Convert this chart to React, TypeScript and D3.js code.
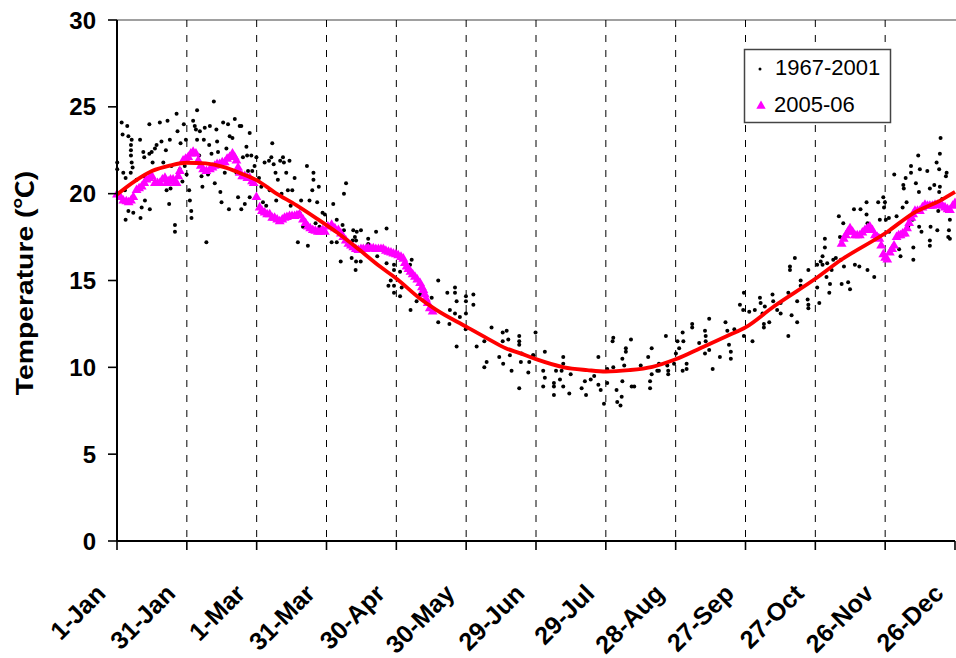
import React from "react";
import * as d3 from "d3";

// ---- Data (day of year from 1-Jan, temperature °C) ----
const xTickDays = [0, 30, 60, 90, 120, 150, 180, 210, 240, 270, 300, 330, 360];
const xTickLabels = ["1-Jan", "31-Jan", "1-Mar", "31-Mar", "30-Apr", "30-May", "29-Jun", "29-Jul", "28-Aug", "27-Sep", "27-Oct", "26-Nov", "26-Dec"];
const yTicks = [0, 5, 10, 15, 20, 25, 30];

const dotsJanMar: [number, number][] = [
  [0.1,21.8],[0.1,21.4],[2,24.1],[2.4,23.4],[2.7,21.2],[3.4,20.2],[3.7,20.9],[4.1,19.5],[3.7,18.5],[4.4,23.9],[4.9,23.3],[4.9,19.0],[6.3,23.1],[6,22.8],[6,22.5],[6,22.2],[6.3,21.8],[6.7,21.5],[5.9,21.2],[6.7,19.8],[7,18.9],[8.4,20.8],[9.9,23.1],[10.1,18.6],[10.6,19.2],[11.3,22.4],[11.7,22.1],[12,19.6],[11.6,21.0],[13.9,24.0],[14.1,19.1],[13.9,22.3],[14.9,22.4],[15.3,21.8],[16.3,22.6],[17,22.8],[18.4,24.1],[19.1,23.0],[19.9,21.8],[21,22.5],[21.7,24.2],[22.7,23.1],[23.4,21.6],[22.4,19.4],[21.3,20.2],[23,20.3],[24.9,18.2],[24.9,17.8],[25.6,24.6],[26,23.6],[27.3,22.9],[27,21.4],[28.1,20.7],[28.7,24.0],[29.1,21.6],[29.6,23.1],[29.9,21.1],[31,20.2],[31.3,19.6],[31.9,19.0],[32,18.6],[32.7,24.2],[33.4,23.9],[34.4,24.8],[33.9,23.7],[34.4,23.1],[35.3,22.2],[35.6,23.6],[36.3,21.0],[36.7,20.4],[37.3,23.1],[37.7,23.8],[38.4,17.2],[39.1,21.1],[39.6,22.8],[39.9,23.9],[40.6,22.3],[41.6,25.3],[41.6,21.6],[42,20.6],[42.7,23.7],[43,23.0],[43.4,22.4],[44.1,21.7],[44.4,20.1],[44.9,19.5],[45.6,24.1],[46.3,21.2],[47,22.6],[47.7,24.0],[48.1,19.1],[48.4,23.3],[49.6,23.2],[50.6,24.3],[50.1,22.2],[51.3,21.2],[52,19.8],[52.7,23.9],[53.4,23.9],[54.1,22.1],[53.4,19.1],[54.9,19.4],[55.6,22.7],[55.9,22.2],[56.3,21.3],[57,23.5],[57.7,22.2],[57,19.8],[58.1,21.3],[59.1,21.6],[59.9,22.1],[61,20.9],[62,20.4],[62.7,19.5],[63.4,21.8],[64.1,19.3],[65.3,21.9],[66.3,22.1],[66.7,22.9],[65.6,20.2],[67.3,21.7],[68.1,21.2],[68.4,19.6],[69.1,20.8],[70.1,21.9],[70.7,20.0],[71.3,22.1],[71.7,21.8],[72.7,21.2],[73.4,20.2],[74.1,21.9],[74.6,19.3],[75.3,20.2],[76.3,20.9],[77.7,17.2],[78.4,18.9],[79.1,19.6],[79.9,18.1],[81.6,21.6],[82,17.0],[82.7,19.6],[83.9,20.2],[84.4,21.2],[84.4,20.8],[85.3,18.3],[86,19.5],[86.7,20.4],[87,18.1],[88.3,18.9],[89.3,18.8]
];

const dotsAprJun: [number, number][] = [
  [98.4,20.6],[97.5,20.0],[92.9,19.4],[94.4,18.5],[96.9,18.2],[97.5,17.9],[101.5,17.9],[103,17.8],[104.8,17.9],[102.2,17.5],[102.7,17.3],[101.2,17.3],[107.9,17.4],[107.9,17.1],[111.3,17.8],[115.8,18.0],[92.2,17.2],[94.4,17.2],[96.1,16.1],[100.8,16.3],[102.7,16.1],[104.7,16.1],[102.5,15.6],[111.8,16.4],[115.8,16.0],[119,15.9],[119,15.6],[121.6,15.5],[126.6,16.2],[125.9,15.9],[117.6,15.0],[116.6,14.7],[119,14.7],[122.3,14.6],[119,14.3],[121.6,14.1],[128.7,13.8],[130.2,14.2],[126.1,13.3],[138,15.0],[141.9,14.3],[145.2,14.6],[145.2,14.3],[145.9,13.8],[149.9,14.1],[149.9,13.8],[153.1,14.2],[153.1,13.6],[135.2,14.0],[138,12.6],[143,13.3],[142.8,12.5],[145.2,13.1],[147.3,12.9],[149.9,13.1],[149.8,12.2],[145.9,11.2],[154.5,11.2],[157.8,11.5],[160.9,12.3],[158.8,10.3],[157.8,10.0],[165.7,12.0],[167.4,12.1],[165.7,11.5],[168.1,11.6],[164.2,10.6],[165.9,10.2],[168.8,10.7],[169.5,9.8],[172.8,11.8],[172.8,11.5],[172.8,11.3],[173.8,10.8],[173.5,10.3],[176.7,9.7],[177.1,10.3],[178.8,10.7],[172.8,8.8]
];

const dotsJulSep: [number, number][] = [
  [179.8,12.0],[178.8,10.7],[183.8,10.9],[183.1,9.8],[183.8,9.4],[183.1,8.9],[187.7,9.1],[187.7,8.9],[187.7,8.4],[188.6,9.8],[190.3,9.3],[191.7,10.6],[191.7,10.2],[191,9.8],[191.7,8.9],[194.3,8.5],[194.9,9.6],[199.6,8.8],[201,9.2],[201.5,8.4],[203.5,9.3],[205,9.5],[206.8,10.6],[206.8,9.0],[207.8,8.7],[209.2,7.9],[210.6,9.1],[210.6,9.9],[212.9,11.5],[213.2,11.7],[213.2,10.0],[214.6,8.7],[214.9,8.0],[216.3,7.8],[216.8,8.3],[217.1,9.2],[217.1,10.5],[217.9,10.1],[218.6,10.9],[218.6,11.1],[220.8,11.6],[221.1,8.9],[222.2,8.9],[225,10.1],[228.2,10.6],[229,9.2],[229,8.8],[229.7,11.1],[229.7,9.6],[232.1,9.8],[232.8,10.2],[232.8,9.8],[235.8,11.8],[236.8,9.8],[236.8,9.6],[236.4,10.1],[239.3,10.2],[240.1,10.8],[240.8,11.5],[241.5,11.1],[243.3,11.5],[243,12.0],[243,9.8],[244.7,10.2],[244.7,9.9],[247.1,12.5],[247.1,12.3],[250.1,11.4],[252.6,12.1],[252.9,11.8],[252.9,11.5],[252.6,10.8],[254.4,12.8],[254.4,11.0],[255.9,9.9],[259,10.6],[261.4,12.6],[262.2,12.1],[262.9,11.3],[263.7,10.9],[263.7,10.5],[265.2,12.2],[269.3,11.8]
];

const dotsOctDec: [number, number][] = [
  [267.6,13.6],[269.3,14.3],[269,13.3],[271.6,13.2],[273,11.5],[274,13.3],[276.2,14.0],[276.5,13.7],[277.3,13.1],[278.3,13.5],[277.9,12.5],[277.9,12.3],[280.2,12.6],[281.6,14.2],[281.9,13.8],[283.6,13.3],[285.1,13.1],[285.1,13.7],[288.4,14.3],[289.1,15.8],[289.1,15.6],[288.4,11.8],[289.8,13.0],[291.2,16.3],[292.2,13.8],[292.2,12.6],[293.7,15.0],[293.7,14.7],[297,15.6],[296.7,13.9],[297,13.6],[297,13.4],[300.8,15.9],[300.8,14.6],[301.7,13.7],[302.3,16.1],[303.1,16.4],[303.1,15.9],[304.1,17.4],[304.1,16.9],[304.8,15.2],[305.1,16.0],[306,14.3],[306.3,14.8],[307,15.6],[307.7,16.2],[308.8,16.3],[310.1,18.7],[310.6,17.5],[311,16.2],[311.3,14.8],[312,18.3],[312.3,15.8],[314.1,14.9],[314.9,14.5],[316.6,19.1],[317,15.9],[318.9,15.8],[319.4,19.1],[322,19.5],[322,18.8],[322.4,15.6],[322.4,18.3],[325.3,15.2],[326.6,17.6],[327,19.5],[327.7,18.5],[329.2,19.8],[329.9,19.5],[329.5,19.2],[330.3,18.5],[331.6,18.6],[331.7,17.8],[333.9,21.1],[334.9,18.7],[336,16.8],[336.6,16.4],[337.5,19.2],[337.8,20.5],[338,20.3],[338.8,20.9],[339.2,19.5],[339.9,18.1],[341.1,21.6],[341.1,21.2],[341.8,18.5],[342.1,16.9],[342.1,16.2],[343.2,20.6],[344.2,22.2],[344.5,20.1],[344.6,18.1],[344.9,21.4],[345.6,17.8],[348.1,21.3],[349.2,20.3],[349.2,17.0],[349.2,17.3],[349.5,18.1],[351.1,20.5],[352.1,21.8],[352.4,17.9],[352.8,19.0],[353.2,21.4],[353.5,22.3],[353.8,23.2],[353.2,20.1],[353.5,20.4],[354.5,19.7],[356.4,21.2],[356.4,19.0],[357.1,17.5],[357.4,17.9],[357.8,17.4],[357.8,18.5],[356.1,21.0]
];

const tri2005Early: [number, number][] = [
  [0,19.95],[1.5,19.8],[2.7,19.6],[4,19.55],[5,19.5],[6,19.6],[7,19.8],[8.4,20.2],[9.5,20.3],[10.6,20.4],[11.7,20.6],[12.7,20.8],[14,20.9],[15,21.0],[16.3,20.6],[17.4,20.6],[18.4,20.6],[19.5,20.8],[20.6,20.9],[21.4,20.6],[22,20.7],[23,20.8],[24.1,20.8],[25,20.6],[25.6,20.6],[26.3,21.0],[27,21.3],[28.4,21.9],[29.5,22.0],[30.6,22.1],[31.7,22.3],[32.7,22.4],[33.9,22.3],[34.9,21.9],[36,21.6],[37,21.4],[38.4,21.3],[39.9,21.4],[41,21.5],[42,21.6],[43,21.7],[44.1,21.7],[45.2,21.8],[46.3,21.8],[47.3,22.0],[48.4,22.1],[49.6,22.3],[50.5,22.1],[51.3,21.9],[52,21.5],[52.7,21.2],[53.8,21.0],[54.9,21.0],[56,20.9],[57,20.9],[58,20.7],[58.7,20.6],[59.9,19.8],[61.3,19.2],[62.3,19.0],[63.4,18.9],[64.5,18.8],[65.6,18.8],[66.7,18.6],[67.7,18.6],[68.8,18.5],[69.9,18.4],[71,18.5],[72,18.6],[73,18.65],[74.1,18.7],[75.2,18.7],[76.3,18.7],[77.3,18.75],[78.4,18.8],[79.9,18.5],[81,18.3],[82,18.1],[83,18.0],[84.1,17.9],[85.2,17.85],[86.3,17.8],[87.3,17.8],[88.4,17.9],[89.3,17.8],[90.6,18.1],[92.2,18.2],[93.6,18.0],[95.1,17.9],[96.2,17.7],[97.2,17.5],[98.3,17.3],[99.4,17.1],[100.5,17.0],[101.5,16.9],[102.6,16.8],[103.7,16.75],[104.8,16.8],[105.8,16.8],[106.9,16.8],[107.9,16.85],[109,16.85],[110.1,16.85],[111.2,16.8],[112.3,16.8],[113.4,16.8],[114.4,16.8],[115.5,16.7],[116.6,16.65],[117.7,16.6],[118.7,16.55],[119.8,16.5],[120.8,16.45],[122,16.35],[123,16.25],[123.7,16.0],[124.4,15.8],[125.2,15.65],[126.1,15.5],[127,15.35],[128,15.2],[129,15.05],[130.2,14.85],[131,14.6],[131.6,14.45],[132.2,14.2],[132.7,13.95],[133.5,13.7],[134.4,13.4],[135.6,13.2]
];

const tri2005Late: [number, number][] = [
  [311.3,17.1],[312.2,17.4],[313.1,17.6],[314,17.8],[314.9,18.0],[316,17.8],[317,17.6],[318,17.6],[319.1,17.6],[320.2,17.75],[321.3,17.9],[322.4,18.0],[323.4,18.1],[324.5,17.9],[325.6,17.6],[326.6,17.5],[327.5,17.4],[328.3,17.0],[329.2,16.5],[330,16.3],[330.9,16.2],[332,16.6],[333,16.8],[333.8,17.0],[334.9,17.5],[335.8,17.6],[336.6,17.6],[337.5,17.7],[338.5,17.7],[339.4,18.0],[340.3,18.3],[341.3,18.6],[342,18.8],[342.8,19.0],[343.9,19.0],[344.9,19.0],[346,19.2],[347.1,19.35],[348.2,19.3],[349.2,19.3],[350.3,19.3],[351.4,19.35],[352.5,19.35],[353.5,19.35],[354.6,19.3],[355.7,19.2],[356.8,19.1],[357.8,19.05],[359,19.3],[360,19.45]
];

const meanDays = [0, 8, 15, 23, 30, 38, 46, 53, 60, 68, 77, 86, 95, 104, 113, 120, 130, 137, 150, 159, 167, 173, 180, 192, 202, 210, 220, 230, 240, 252, 263, 270, 282, 300, 311, 331, 342, 354, 360];
const meanTemps = [19.95, 20.75, 21.3, 21.63, 21.78, 21.74, 21.53, 21.18, 20.78, 20.05, 19.34, 18.55, 17.72, 16.78, 15.8, 15.12, 13.98, 13.32, 12.34, 11.67, 11.1, 10.82, 10.47, 10.0, 9.84, 9.76, 9.84, 10.03, 10.46, 11.19, 11.86, 12.3, 13.49, 15.1, 16.18, 17.81, 18.87, 19.63, 20.1];

const legendLabels = ["1967-2001", "2005-06"];

const FONT = "'Liberation Sans', Arial, Helvetica, sans-serif";

export default function App() {
  const W = 956, H = 658;
  const x = d3.scaleLinear().domain([0, 360]).range([117, 955]);
  const y = d3.scaleLinear().domain([0, 30]).range([541, 20]);

  const allDots = [...dotsJanMar, ...dotsAprJun, ...dotsJulSep, ...dotsOctDec];
  const allTris = [...tri2005Early, ...tri2005Late];
  const tri = d3.symbol().type(d3.symbolTriangle).size(42)() as string;
  const triLegend = d3.symbol().type(d3.symbolTriangle).size(38)() as string;

  const meanPts: [number, number][] = meanDays.map((d, i) => [d, meanTemps[i]]);
  const line = d3.line<[number, number]>()
    .x(d => x(d[0]))
    .y(d => y(d[1]))
    .curve(d3.curveMonotoneX);

  const [x0, x1] = x.range();
  const [yb, yt] = y.range();

  return (
    <svg width={W} height={H} style={{ position: "absolute", left: 0, top: 0, background: "#fff" }} fontFamily={FONT}>
      <rect x={0} y={0} width={W} height={H} fill="#fff" />
      {/* top frame */}
      <line x1={x0} x2={W} y1={yt} y2={yt} stroke="#808080" strokeWidth={1.6} />
      {/* dashed vertical gridlines */}
      {xTickDays.filter(d => d > 0 && d < 360).map(d => (
        <line key={"g" + d} x1={x(d)} x2={x(d)} y1={yt} y2={yb} stroke="#000" strokeWidth={1} strokeDasharray="7,8" />
      ))}
      {/* scatter 1967-2001 */}
      {allDots.map((p, i) => (
        <circle key={"d" + i} cx={x(p[0])} cy={y(p[1])} r={2} fill="#000" />
      ))}
      {/* 2005-06 triangles */}
      {allTris.map((p, i) => (
        <path key={"t" + i} d={tri} transform={`translate(${x(p[0])},${y(p[1])})`} fill="#FF00FF" />
      ))}
      {/* mean curve */}
      <path d={line(meanPts) as string} fill="none" stroke="#FF0000" strokeWidth={3.8} strokeLinejoin="round" />
      {/* axes */}
      <line x1={x0} x2={x0} y1={yt} y2={yb} stroke="#000" strokeWidth={2} />
      <line x1={x0} x2={x1} y1={yb} y2={yb} stroke="#000" strokeWidth={2} />
      {yTicks.map(t => (
        <g key={"y" + t}>
          <line x1={x0 - 9} x2={x0} y1={y(t)} y2={y(t)} stroke="#000" strokeWidth={1.6} />
          <text x={96} y={y(t)} dy="0.36em" textAnchor="end" fontSize={24} fontWeight="bold" fill="#000">{t}</text>
        </g>
      ))}
      {xTickDays.map((d, i) => (
        <g key={"x" + d}>
          <line x1={x(d)} x2={x(d)} y1={yb} y2={yb + 9} stroke="#000" strokeWidth={1.6} />
          <text transform={`translate(${x(d) - 10},${595}) rotate(-45)`} textAnchor="end" fontSize={25} fontWeight="bold" fill="#000">{xTickLabels[i]}</text>
        </g>
      ))}
      {/* y label */}
      <text transform={`translate(33,${283}) rotate(-90) scale(1.18,1)`} textAnchor="middle" fontSize={24} fontWeight="bold" fill="#000">
        Temperature (<tspan fontFamily="'Noto Sans CJK SC', 'DejaVu Sans', sans-serif">℃</tspan>)
      </text>
      {/* legend */}
      <rect x={744.5} y={49.5} width={146} height={73} fill="#fff" stroke="#444" strokeWidth={1.5} />
      <circle cx={760} cy={69} r={1.5} fill="#000" />
      <text x={775} y={75} fontSize={22} fill="#000">{legendLabels[0]}</text>
      <path d={triLegend} transform="translate(761,106)" fill="#FF00FF" />
      <text x={774} y={112} fontSize={22} fill="#000">{legendLabels[1]}</text>
    </svg>
  );
}
